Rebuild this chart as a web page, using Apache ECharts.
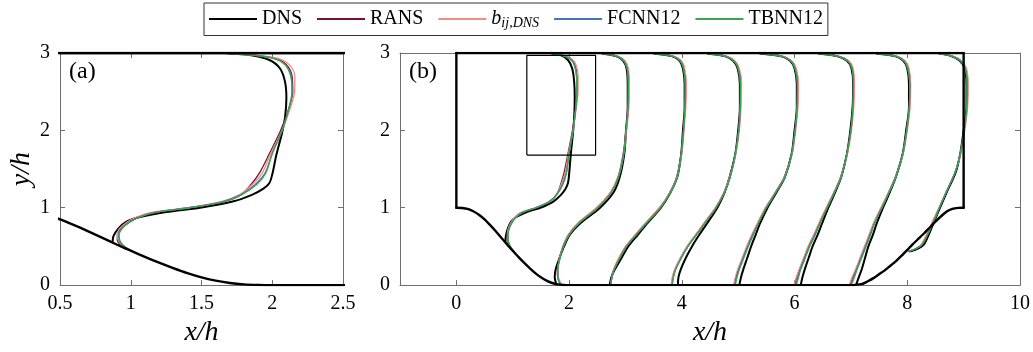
<!DOCTYPE html>
<html><head><meta charset="utf-8">
<script src="https://cdn.jsdelivr.net/npm/echarts@6/dist/echarts.min.js"></script>
<style>html,body{margin:0;padding:0;background:#fff}#c{width:1033px;height:352px}</style>
</head><body><div id="c"></div>
<script>
// ---------- names / colours ----------
const MODEL_NAMES = ['DNS', 'RANS', 'b_ij,DNS', 'FCNN12', 'TBNN12'];
const MODEL_COLORS = ['#000000', '#7b1030', '#f28b82', '#4472c4', '#3da34a'];
const MODEL_WIDTHS = [2, 1.3, 1.3, 1.3, 1.3];

// ---------- axis ticks ----------
const ticksAX = [0.5, 1, 1.5, 2, 2.5];
const ticksBX = [0, 2, 4, 6, 8, 10];
const ticksY = [0, 1, 2, 3];

// ---------- geometry ----------
const channelTop = 3;
const hillCrest = 1;
const wallX = [0, 9];
const hillLX = [0, 0.1, 0.2, 0.3, 0.4, 0.5, 0.6, 0.7, 0.8, 0.9, 1.0, 1.1, 1.2, 1.3, 1.4, 1.5, 1.6, 1.7, 1.8, 1.9, 1.95];
const hillLY = [1.0, 0.997, 0.985, 0.955, 0.91, 0.85, 0.775, 0.695, 0.61, 0.525, 0.445, 0.365, 0.29, 0.22, 0.155, 0.1, 0.058, 0.027, 0.009, 0.001, 0];
const hillRX = [7.05, 7.2, 7.3, 7.4, 7.5, 7.6, 7.7, 7.8, 7.9, 8.0, 8.1, 8.2, 8.3, 8.4, 8.5, 8.6, 8.7, 8.8, 8.9, 9.0];
const hillRY = [0, 0.015, 0.05, 0.09, 0.14, 0.19, 0.25, 0.31, 0.38, 0.455, 0.53, 0.6, 0.67, 0.745, 0.82, 0.89, 0.95, 0.985, 0.998, 1.0];
const zoomBoxX = [1.25, 2.47];
const zoomBoxY = [1.68, 2.97];

// ---------- profile y levels ----------
const yS1dns = [0.56, 0.63, 0.73, 0.82, 0.88, 0.945, 1.0, 1.08, 1.17, 1.25, 1.32, 1.43, 1.69, 1.95, 2.16, 2.42, 2.63, 2.80, 2.91, 2.975, 2.995];
const yS1 = [0.46, 0.52, 0.58, 0.65, 0.73, 0.81, 0.88, 0.94, 1.0, 1.08, 1.17, 1.3, 1.45, 1.7, 2.0, 2.3, 2.5, 2.7, 2.85, 2.93, 2.97, 2.995];
const yMid = [0, 0.1, 0.2, 0.35, 0.5, 0.65, 0.8, 1.0, 1.2, 1.4, 1.7, 2.0, 2.3, 2.6, 2.8, 2.9, 2.96, 2.995];
const yS8 = [0.435, 0.46, 0.52, 0.65, 0.86, 1.0, 1.2, 1.46, 1.7, 2.0, 2.3, 2.6, 2.8, 2.9, 2.96, 2.995];

// ---------- profile x positions (station + U) ----------
const dnsX = [
  [0.872, 0.877, 0.912, 0.97, 1.065, 1.25, 1.49, 1.72, 1.86, 1.94, 1.98, 2.0, 2.03, 2.067, 2.09, 2.10, 2.09, 2.055, 1.98, 1.84, 1.69],
  [1.78, 1.745, 1.76, 1.83, 1.91, 2.01, 2.20, 2.55, 2.79, 2.90, 2.98, 3.01, 3.04, 3.04, 3.02, 2.96, 2.83, 2.58],
  [2.72, 2.75, 2.81, 2.93, 3.05, 3.22, 3.39, 3.63, 3.80, 3.92, 3.99, 4.02, 4.05, 4.05, 4.02, 3.96, 3.82, 3.50],
  [3.93, 3.94, 3.98, 4.07, 4.18, 4.31, 4.45, 4.63, 4.76, 4.85, 4.95, 5.0, 5.03, 5.03, 4.99, 4.91, 4.76, 4.45],
  [5.02, 5.05, 5.09, 5.16, 5.23, 5.31, 5.39, 5.52, 5.68, 5.83, 5.95, 6.0, 6.04, 6.04, 6.0, 5.92, 5.75, 5.38],
  [6.11, 6.14, 6.18, 6.25, 6.32, 6.41, 6.49, 6.60, 6.72, 6.83, 6.93, 6.99, 7.03, 7.04, 7.01, 6.93, 6.75, 6.42],
  [7.09, 7.14, 7.19, 7.25, 7.31, 7.39, 7.46, 7.57, 7.69, 7.80, 7.92, 7.98, 8.03, 8.03, 8.0, 7.93, 7.78, 7.45],
  [8.03, 8.15, 8.29, 8.38, 8.50, 8.58, 8.70, 8.86, 8.94, 9.0, 9.05, 9.05, 9.02, 8.93, 8.78, 8.56]
];
const ransX = [
  [0.965, 0.925, 0.905, 0.905, 0.93, 0.985, 1.06, 1.18, 1.42, 1.66, 1.78, 1.85, 1.91, 1.98, 2.06, 2.12, 2.145, 2.14, 2.10, 2.02, 1.88, 1.68],
  [1.86, 1.80, 1.79, 1.83, 1.89, 1.99, 2.17, 2.50, 2.74, 2.87, 2.96, 3.01, 3.05, 3.06, 3.04, 2.98, 2.85, 2.58],
  [2.73, 2.75, 2.79, 2.89, 3.01, 3.18, 3.36, 3.61, 3.79, 3.91, 3.99, 4.03, 4.06, 4.07, 4.04, 3.98, 3.84, 3.50],
  [3.82, 3.84, 3.88, 3.98, 4.10, 4.25, 4.40, 4.60, 4.75, 4.85, 4.95, 5.01, 5.04, 5.05, 5.01, 4.93, 4.78, 4.44],
  [4.93, 4.96, 5.0, 5.08, 5.16, 5.25, 5.35, 5.49, 5.66, 5.82, 5.95, 6.01, 6.05, 6.06, 6.02, 5.94, 5.77, 5.37],
  [6.0, 6.04, 6.09, 6.17, 6.25, 6.35, 6.44, 6.57, 6.70, 6.82, 6.93, 7.0, 7.04, 7.05, 7.03, 6.95, 6.77, 6.41],
  [6.98, 7.03, 7.09, 7.17, 7.25, 7.33, 7.41, 7.54, 7.67, 7.79, 7.92, 7.99, 8.04, 8.05, 8.02, 7.95, 7.80, 7.44],
  [8.01, 8.12, 8.25, 8.35, 8.48, 8.57, 8.69, 8.85, 8.94, 9.01, 9.06, 9.07, 9.04, 8.95, 8.80, 8.55]
];
const bijX = [
  [0.975, 0.935, 0.912, 0.905, 0.92, 0.97, 1.04, 1.15, 1.40, 1.64, 1.77, 1.86, 1.93, 1.99, 2.07, 2.13, 2.158, 2.16, 2.12, 2.04, 1.90, 1.66],
  [1.87, 1.81, 1.80, 1.83, 1.89, 1.98, 2.15, 2.48, 2.73, 2.87, 2.97, 3.02, 3.06, 3.07, 3.05, 2.99, 2.86, 2.57],
  [2.74, 2.76, 2.79, 2.88, 3.0, 3.17, 3.35, 3.60, 3.79, 3.91, 4.0, 4.04, 4.07, 4.08, 4.05, 3.99, 3.85, 3.49],
  [3.81, 3.83, 3.87, 3.97, 4.09, 4.24, 4.39, 4.59, 4.75, 4.85, 4.96, 5.02, 5.05, 5.06, 5.02, 4.94, 4.79, 4.43],
  [4.92, 4.95, 4.99, 5.07, 5.15, 5.24, 5.34, 5.48, 5.66, 5.82, 5.96, 6.02, 6.06, 6.07, 6.03, 5.95, 5.78, 5.36],
  [5.99, 6.03, 6.08, 6.16, 6.24, 6.34, 6.43, 6.56, 6.70, 6.82, 6.94, 7.01, 7.05, 7.06, 7.04, 6.96, 6.78, 6.40],
  [6.97, 7.02, 7.08, 7.16, 7.24, 7.32, 7.40, 7.53, 7.67, 7.79, 7.93, 8.0, 8.05, 8.06, 8.03, 7.96, 7.81, 7.43],
  [8.0, 8.11, 8.24, 8.34, 8.47, 8.56, 8.69, 8.85, 8.95, 9.02, 9.07, 9.08, 9.05, 8.96, 8.81, 8.54]
];
const fcnnX = [
  [0.985, 0.94, 0.918, 0.915, 0.935, 0.985, 1.06, 1.17, 1.41, 1.65, 1.78, 1.88, 1.95, 2.0, 2.07, 2.12, 2.14, 2.135, 2.09, 2.01, 1.87, 1.67],
  [1.85, 1.80, 1.80, 1.84, 1.90, 2.0, 2.18, 2.51, 2.75, 2.88, 2.97, 3.01, 3.045, 3.05, 3.03, 2.97, 2.84, 2.58],
  [2.74, 2.76, 2.80, 2.90, 3.02, 3.19, 3.37, 3.62, 3.80, 3.92, 3.99, 4.03, 4.055, 4.06, 4.03, 3.97, 3.83, 3.50],
  [3.83, 3.85, 3.89, 3.99, 4.11, 4.26, 4.41, 4.61, 4.76, 4.86, 4.95, 5.01, 5.035, 5.04, 5.0, 4.92, 4.77, 4.44],
  [4.94, 4.97, 5.01, 5.09, 5.17, 5.26, 5.36, 5.50, 5.67, 5.83, 5.95, 6.01, 6.045, 6.05, 6.01, 5.93, 5.76, 5.37],
  [6.02, 6.06, 6.10, 6.18, 6.26, 6.36, 6.45, 6.58, 6.71, 6.83, 6.93, 7.0, 7.035, 7.045, 7.02, 6.94, 6.76, 6.41],
  [7.0, 7.05, 7.10, 7.18, 7.26, 7.34, 7.42, 7.55, 7.68, 7.80, 7.92, 7.99, 8.035, 8.045, 8.01, 7.94, 7.79, 7.44],
  [8.01, 8.12, 8.26, 8.36, 8.49, 8.57, 8.69, 8.85, 8.94, 9.01, 9.055, 9.06, 9.03, 8.94, 8.79, 8.55]
];
const tbnnX = [
  [0.99, 0.945, 0.922, 0.918, 0.938, 0.99, 1.065, 1.175, 1.42, 1.66, 1.785, 1.89, 1.955, 2.0, 2.07, 2.12, 2.14, 2.13, 2.09, 2.01, 1.87, 1.67],
  [1.85, 1.80, 1.80, 1.84, 1.90, 2.0, 2.17, 2.51, 2.75, 2.88, 2.97, 3.01, 3.045, 3.05, 3.03, 2.97, 2.84, 2.58],
  [2.74, 2.76, 2.80, 2.90, 3.02, 3.19, 3.37, 3.62, 3.80, 3.92, 3.99, 4.03, 4.055, 4.06, 4.03, 3.97, 3.83, 3.50],
  [3.83, 3.85, 3.89, 3.99, 4.11, 4.26, 4.41, 4.61, 4.76, 4.86, 4.95, 5.01, 5.035, 5.04, 5.0, 4.92, 4.77, 4.44],
  [4.95, 4.98, 5.02, 5.10, 5.18, 5.27, 5.36, 5.50, 5.67, 5.83, 5.95, 6.01, 6.045, 6.05, 6.01, 5.93, 5.76, 5.37],
  [6.03, 6.07, 6.11, 6.19, 6.27, 6.37, 6.45, 6.58, 6.71, 6.83, 6.93, 7.0, 7.035, 7.045, 7.02, 6.94, 6.76, 6.41],
  [7.01, 7.06, 7.11, 7.19, 7.27, 7.35, 7.42, 7.55, 7.68, 7.80, 7.92, 7.99, 8.035, 8.045, 8.01, 7.94, 7.79, 7.44],
  [8.01, 8.12, 8.26, 8.36, 8.49, 8.57, 8.69, 8.85, 8.94, 9.01, 9.055, 9.06, 9.03, 8.94, 8.79, 8.55]
];
const dnsY = [yS1dns, yMid, yMid, yMid, yMid, yMid, yMid, yS8];
const modelY = [yS1, yMid, yMid, yMid, yMid, yMid, yMid, yS8];

// ---------- build ----------
const FONT = "'Liberation Serif', 'Times New Roman', serif";
const AX = '#6e6e6e';
const pairs = (xs, ys) => xs.map((x, i) => [x, ys[i]]);
const allX = [dnsX, ransX, bijX, fcnnX, tbnnX];

function profileSeries(station, xi, yi) {
  return allX.map((arr, m) => ({
    type: 'line', name: MODEL_NAMES[m], xAxisIndex: xi, yAxisIndex: yi,
    data: pairs(arr[station], m === 0 ? dnsY[station] : modelY[station]),
    smooth: 0.3, symbol: 'none', silent: true, z: 2 + m,
    lineStyle: { color: MODEL_COLORS[m], width: MODEL_WIDTHS[m] },
    itemStyle: { color: MODEL_COLORS[m] }
  }));
}
function outlineSeries(xi, yi, withBox) {
  const st = { color: '#000', width: 2.4, cap: 'round', join: 'round' };
  const base = { type: 'line', symbol: 'none', silent: true, xAxisIndex: xi, yAxisIndex: yi, z: 8, lineStyle: st };
  const out = [
    Object.assign({}, base, { data: [[wallX[0], channelTop], [wallX[0], hillCrest]] }),
    Object.assign({}, base, { data: pairs(hillLX, hillLY), smooth: 0.2 }),
    Object.assign({}, base, { data: [[hillLX[hillLX.length - 1], 0], [hillRX[0], 0]] }),
    Object.assign({}, base, { data: pairs(hillRX, hillRY), smooth: 0.2 }),
    Object.assign({}, base, { data: [[wallX[1], hillCrest], [wallX[1], channelTop]] }),
    Object.assign({}, base, { data: [[wallX[0], channelTop], [wallX[1], channelTop]] })
  ];
  if (xi === 0) {
    out.push(Object.assign({}, base, { data: [[ticksAX[0], channelTop], [ticksAX[ticksAX.length - 1], channelTop]] }));
    out.push(Object.assign({}, base, { data: [[hillLX[hillLX.length - 1], 0], [ticksAX[ticksAX.length - 1], 0]] }));
  }
  if (withBox) {
    out.push({
      type: 'line', symbol: 'none', silent: true, xAxisIndex: xi, yAxisIndex: yi, z: 9,
      lineStyle: { color: '#000', width: 1.2 },
      data: [[zoomBoxX[0], zoomBoxY[0]], [zoomBoxX[1], zoomBoxY[0]], [zoomBoxX[1], zoomBoxY[1]], [zoomBoxX[0], zoomBoxY[1]], [zoomBoxX[0], zoomBoxY[0]]]
    });
  }
  return out;
}

const series = [];
series.push(...profileSeries(0, 0, 0));
series.push(...outlineSeries(0, 0, false));
for (let s = 0; s < 8; s++) series.push(...profileSeries(s, 2, 2));
series.push(...outlineSeries(2, 2, true));

const tickStyle = { inside: true, length: 5, lineStyle: { color: AX, width: 1 } };
const lineSt = { show: true, onZero: false, lineStyle: { color: AX, width: 1 } };
const labelSt = { color: '#000', fontFamily: FONT, fontSize: 20 };
const nameSt = { color: '#000', fontFamily: FONT, fontStyle: 'italic', fontSize: 28 };

function xAx(grid, min, max, ticks, pos, main) {
  return {
    type: 'value', gridIndex: grid, min: min, max: max, position: pos,
    axisLine: lineSt,
    axisTick: Object.assign({ customValues: ticks }, tickStyle),
    axisLabel: Object.assign({ show: main, customValues: ticks, margin: 9 }, labelSt),
    splitLine: { show: false },
    name: main ? 'x/h' : '', nameLocation: 'middle', nameGap: 31, nameTextStyle: nameSt
  };
}
function yAx(grid, pos, main, name) {
  return {
    type: 'value', gridIndex: grid, min: 0, max: 3, position: pos,
    axisLine: lineSt,
    axisTick: Object.assign({ customValues: ticksY }, tickStyle),
    axisLabel: Object.assign({ show: main, customValues: ticksY, margin: 10 }, labelSt),
    splitLine: { show: false },
    name: name, nameLocation: 'middle', nameGap: 24, nameRotate: 90, nameTextStyle: nameSt
  };
}

const option = {
  animation: false,
  backgroundColor: '#fff',
  title: [
    { text: '(a)', left: 69, top: 60, padding: 0, textStyle: { fontFamily: FONT, fontWeight: 'normal', fontSize: 24, color: '#000' } },
    { text: '(b)', left: 409, top: 60, padding: 0, textStyle: { fontFamily: FONT, fontWeight: 'normal', fontSize: 24, color: '#000' } }
  ],
  legend: {
    data: MODEL_NAMES, left: 204, top: 3, icon: 'rect', itemWidth: 48, itemHeight: 2, itemGap: 15,
    padding: [5, 5], borderColor: '#333', borderWidth: 1, backgroundColor: '#fff',
    selectedMode: false,
    textStyle: {
      fontFamily: FONT, fontSize: 20, color: '#000', lineHeight: 22,
      rich: {
        i: { fontFamily: FONT, fontStyle: 'italic', fontSize: 20, color: '#000', lineHeight: 22 },
        s: { fontFamily: FONT, fontStyle: 'italic', fontSize: 14, color: '#000', padding: [9, 0, 0, 0] }
      }
    },
    formatter: n => n === 'b_ij,DNS' ? '{i|b}{s|ij,DNS}' : n
  },
  grid: [
    { left: 60, top: 53, width: 283, height: 234 },
    { left: 400, top: 53, width: 621, height: 234 }
  ],
  xAxis: [
    xAx(0, ticksAX[0], ticksAX[ticksAX.length - 1], ticksAX, 'bottom', true),
    xAx(0, ticksAX[0], ticksAX[ticksAX.length - 1], ticksAX, 'top', false),
    xAx(1, -1, 10, ticksBX, 'bottom', true),
    xAx(1, -1, 10, ticksBX, 'top', false)
  ],
  yAxis: [
    yAx(0, 'left', true, 'y/h'),
    yAx(0, 'right', false, ''),
    yAx(1, 'left', true, ''),
    yAx(1, 'right', false, '')
  ],
  series: series
};
const chart = echarts.init(document.getElementById('c'), null, { renderer: 'canvas' });
chart.setOption(option);
</script></body></html>
